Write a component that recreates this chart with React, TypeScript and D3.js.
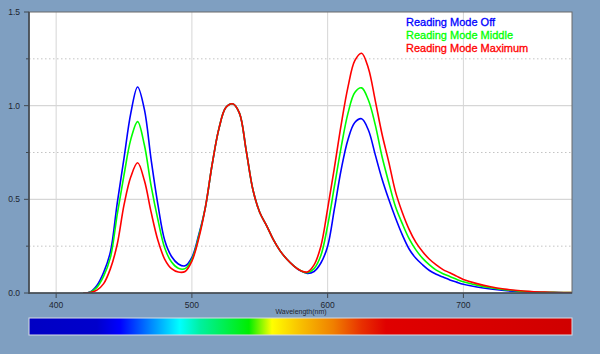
import React from "react";
import * as d3 from "d3";

// wavelength samples (nm) and the three measured spectra
const wavelengths = [
  420, 425, 430, 435, 440, 445, 450, 455, 460, 465, 470, 475, 480, 485, 490, 495, 500,
  505, 510, 515, 520, 525, 530, 535, 540, 545, 550, 555, 560, 565, 570, 575, 580, 585,
  590, 595, 600, 605, 610, 615, 620, 625, 630, 635, 640, 645, 650, 655, 660, 665, 670,
  675, 680, 685, 690, 695, 700, 710, 720, 730, 740, 750, 760, 770, 780,
];

const offValues = [
  0, 0.005, 0.04, 0.11, 0.22, 0.48, 0.72, 0.96, 1.1, 0.98, 0.71, 0.47, 0.28, 0.195, 0.155, 0.145, 0.19,
  0.31, 0.46, 0.69, 0.88, 0.99, 1.01, 0.96, 0.76, 0.55, 0.43, 0.36, 0.285, 0.225, 0.18, 0.145, 0.118, 0.105,
  0.115, 0.16, 0.25, 0.45, 0.66, 0.82, 0.91, 0.93, 0.87, 0.74, 0.61, 0.5, 0.4, 0.31, 0.235, 0.185, 0.15,
  0.12, 0.1, 0.085, 0.07, 0.058, 0.047, 0.032, 0.021, 0.013, 0.008, 0.005, 0.003, 0.002, 0.001,
];

const middleValues = [
  0, 0.004, 0.03, 0.09, 0.19, 0.42, 0.63, 0.82, 0.915, 0.79, 0.57, 0.39, 0.24, 0.165, 0.132, 0.13, 0.18,
  0.3, 0.46, 0.69, 0.88, 0.99, 1.01, 0.96, 0.76, 0.55, 0.43, 0.36, 0.285, 0.225, 0.18, 0.145, 0.12, 0.108,
  0.13, 0.2, 0.36, 0.57, 0.78, 0.96, 1.07, 1.095, 1.03, 0.9, 0.73, 0.59, 0.46, 0.37, 0.29, 0.23, 0.185,
  0.15, 0.122, 0.103, 0.088, 0.073, 0.06, 0.042, 0.028, 0.018, 0.011, 0.007, 0.004, 0.003, 0.002,
];

const maximumValues = [
  0, 0.002, 0.015, 0.05, 0.13, 0.26, 0.47, 0.62, 0.695, 0.6, 0.43, 0.28, 0.18, 0.13, 0.112, 0.115, 0.17,
  0.29, 0.46, 0.69, 0.88, 0.99, 1.01, 0.96, 0.76, 0.55, 0.43, 0.36, 0.285, 0.225, 0.18, 0.145, 0.12, 0.112,
  0.15, 0.25, 0.45, 0.67, 0.9, 1.1, 1.24, 1.28, 1.2, 1.03, 0.85, 0.7, 0.54, 0.43, 0.34, 0.27, 0.22,
  0.18, 0.15, 0.125, 0.108, 0.09, 0.072, 0.05, 0.033, 0.021, 0.013, 0.008, 0.005, 0.003, 0.002,
];

const seriesNames = ["Reading Mode Off", "Reading Mode Middle", "Reading Mode Maximum"];
const seriesColors = ["#0000ff", "#00ff00", "#ff0000"];
const seriesValues = [offValues, middleValues, maximumValues];

const xTicks = [400, 500, 600, 700];
const yTicks = [0, 0.5, 1.0, 1.5];
const yMinorTicks = [0.25, 0.75, 1.25];

// colour bar stops, by wavelength
const spectrumStops: [number, string][] = [
  [380, "#0000c4"],
  [430, "#0000cc"],
  [447, "#0000ff"],
  [470, "#0088ff"],
  [491, "#00ffff"],
  [506, "#00f0a0"],
  [542, "#00ee00"],
  [559, "#ffff00"],
  [580, "#f8c000"],
  [604, "#f08000"],
  [625, "#e83000"],
  [643, "#e00000"],
  [780, "#d00000"],
];

const W = 600;
const H = 354;
const margin = { left: 29, right: 28, top: 12, bottom: 61 };

export default function App() {
  const x = d3
    .scaleLinear()
    .domain([380, 780])
    .range([margin.left, W - margin.right]);
  const y = d3
    .scaleLinear()
    .domain([0, 1.5])
    .range([H - margin.bottom, margin.top]);

  const line = d3
    .line<number>()
    .x((d, i) => x(wavelengths[i]))
    .y((d) => y(d))
    .curve(d3.curveCatmullRom.alpha(0.5));

  const [x0, x1] = x.range();
  const [yb, yt] = y.range();
  const barTop = 318;
  const barH = 17;

  return (
    <>
      <style>{`body{margin:0}`}</style>
      <svg width={W} height={H} style={{ display: "block", fontFamily: "'Liberation Sans', Arial, sans-serif" }}>
        <defs>
          <linearGradient id="spec" x1="0" x2="1" y1="0" y2="0">
            {spectrumStops.map(([wl, c]) => (
              <stop key={wl} offset={(x(wl) - x0) / (x1 - x0)} stopColor={c} />
            ))}
          </linearGradient>
          <clipPath id="plot">
            <rect x={x0} y={yt} width={x1 - x0} height={yb - yt} />
          </clipPath>
        </defs>
        <rect width={W} height={H} fill="#7f9fc1" />
        <rect x={x0} y={yt} width={x1 - x0} height={yb - yt} fill="#ffffff" />

        {/* grid */}
        {xTicks.map((t) => (
          <line key={t} x1={x(t)} x2={x(t)} y1={yt} y2={yb} stroke="#d6d6d6" />
        ))}
        {yTicks.slice(1, -1).map((t) => (
          <line key={t} x1={x0} x2={x1} y1={y(t)} y2={y(t)} stroke="#d6d6d6" strokeWidth={1.2} />
        ))}
        {yMinorTicks.map((t) => (
          <line key={t} x1={x0} x2={x1} y1={y(t)} y2={y(t)} stroke="#c4c4c4" strokeDasharray="1.5,2.5" />
        ))}

        {/* spectra */}
        <g clipPath="url(#plot)" fill="none" strokeWidth={1.6} strokeLinejoin="round">
          {seriesValues.map((vals, i) => (
            <path key={i} d={line(vals) || ""} stroke={seriesColors[i]} />
          ))}
        </g>

        {/* frame */}
        <rect x={x0} y={yt} width={x1 - x0} height={yb - yt} fill="none" stroke="#6a6a6a" />
        <line x1={x0} x2={x0} y1={yt} y2={yb + 1} stroke="#404850" strokeWidth={1.6} />
        <line x1={x0} x2={x1} y1={yb} y2={yb} stroke="#404850" strokeWidth={1.6} />

        {/* y axis */}
        {yTicks.map((t) => (
          <g key={t}>
            <line x1={x0 - 5} x2={x0} y1={y(t)} y2={y(t)} stroke="#404850" />
            <text x={20} y={y(t)} dy="0.35em" textAnchor="end" fontSize={8.5} fill="#1e2630">
              {t.toFixed(1)}
            </text>
          </g>
        ))}
        {yMinorTicks.map((t) => (
          <line key={t} x1={x0 - 3} x2={x0} y1={y(t)} y2={y(t)} stroke="#404850" />
        ))}

        {/* x axis */}
        {xTicks.map((t) => (
          <g key={t}>
            <line x1={x(t)} x2={x(t)} y1={yb} y2={yb + 5} stroke="#404850" />
            <text x={x(t)} y={yb + 15} textAnchor="middle" fontSize={8.5} fill="#1e2630">
              {t}
            </text>
          </g>
        ))}
        <text x={301} y={yb + 21} textAnchor="middle" fontSize={7} fill="#1e2630">
          Wavelength(nm)
        </text>

        {/* spectrum bar */}
        <rect x={x0} y={barTop} width={x1 - x0} height={barH} fill="url(#spec)" stroke="#d8dde6" strokeWidth={1} />

        {/* legend */}
        {seriesNames.map((name, i) => (
          <text
            key={name}
            x={406}
            y={26 + i * 13}
            fontSize={11}
            fill={seriesColors[i]}
            stroke={seriesColors[i]}
            strokeWidth={0.3}
          >
            {name}
          </text>
        ))}
      </svg>
    </>
  );
}
